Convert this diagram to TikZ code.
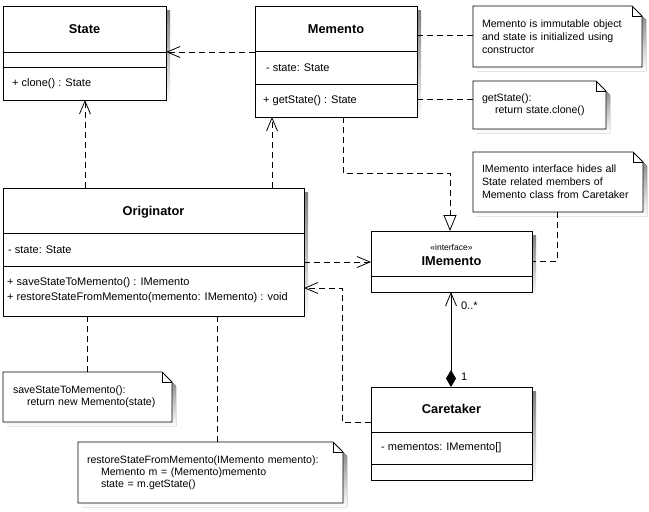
\documentclass[tikz,border=0pt]{standalone}
\usepackage{fontspec}
\setmainfont{Liberation Sans}
\usetikzlibrary{arrows.meta}

\definecolor{shade}{RGB}{192,192,192}
\pgfdeclarelayer{back}
\pgfdeclarelayer{bg}
\pgfsetlayers{back,bg,main}

\newcommand\txt{\fontsize{11pt}{13pt}\selectfont}
\newcommand\notetxt{\fontsize{10.6pt}{13pt}\selectfont}
\newcommand\ttl{\bfseries\fontsize{12.8pt}{15pt}\selectfont}
\newcommand\ind{\hspace*{14pt}}

% shadow behind a class box
\newcommand\classdeco[1]{%
  \begin{pgfonlayer}{bg}
    \fill[shade] ([shift={(4pt,-4pt)}]#1.north west) rectangle ([shift={(4pt,-4pt)}]#1.south east);
  \end{pgfonlayer}}

% folded-corner outline and shadow of a note node
\newcommand\notedeco[1]{%
  \begin{pgfonlayer}{bg}
    \fill[shade] ([shift={(4pt,-4pt)}]#1.north west) -- ([shift={(-6pt,-4pt)}]#1.north east)
      -- ([shift={(4pt,-14pt)}]#1.north east) -- ([shift={(4pt,-4pt)}]#1.south east)
      -- ([shift={(4pt,-4pt)}]#1.south west) -- cycle;
    \filldraw[fill=white, line width=0.8pt, line join=miter] (#1.north west)
      -- ([xshift=-10pt]#1.north east) -- ([yshift=-10pt]#1.north east)
      -- (#1.south east) -- (#1.south west) -- cycle;
    \draw[line width=0.8pt] ([xshift=-10pt]#1.north east) |- ([yshift=-10pt]#1.north east);
  \end{pgfonlayer}}

\tikzset{
  umlclass/.style={draw, line width=0.8pt, fill=white, inner sep=0pt, outer sep=0pt,
    anchor=north west},
  notebox/.style={inner xsep=9pt, inner ysep=0pt, outer sep=0pt, anchor=north west,
    align=left, font=\notetxt},
  title/.style={font=\ttl, inner sep=0pt},
  member/.style={font=\txt, inner sep=0pt, anchor=west},
  sep/.style={line width=0.8pt},
  dashes/.style={line width=0.8pt, dash pattern=on 6pt off 4pt},
  dep/.style={dashes, -{Straight Barb[length=13pt,width=11pt]}},
  realize/.style={dashes, -{Triangle[length=16pt,width=13pt,fill=white]}},
  comp/.style={line width=0.8pt, {Diamond[length=17pt,width=10pt]}-{Straight Barb[length=13pt,width=11pt]}},
  notelink/.style={dashes},
}

\begin{document}
\begin{tikzpicture}[x=1pt,y=-1pt]
\begin{pgfonlayer}{back}
  \fill[white] (0,0) rectangle (649,512);
\end{pgfonlayer}
\useasboundingbox (0,0) rectangle (649,512);

% ---- State
\node[umlclass, minimum width=163pt, minimum height=94pt] (state) at (3,6) {};
\classdeco{state}
\draw[sep] ([yshift=-46pt]state.north west) -- ([yshift=-46pt]state.north east);
\draw[sep] ([yshift=-61pt]state.north west) -- ([yshift=-61pt]state.north east);
\node[title] (state-name) at ([yshift=-23pt]state.north) {State};
\node[member] (state-op) at (12,84) {+ clone() : State};

% ---- Memento
\node[umlclass, minimum width=162pt, minimum height=111pt] (memento) at (255,6) {};
\classdeco{memento}
\draw[sep] ([yshift=-45pt]memento.north west) -- ([yshift=-45pt]memento.north east);
\draw[sep] ([yshift=-78pt]memento.north west) -- ([yshift=-78pt]memento.north east);
\node[title] (memento-name) at ([yshift=-23pt]memento.north) {Memento};
\node[member] (memento-attr) at (266,68) {- state: State};
\node[member] (memento-op) at (263,101) {+ getState() : State};

% ---- Originator
\node[umlclass, minimum width=301pt, minimum height=128pt] (orig) at (3,188) {};
\classdeco{orig}
\draw[sep] ([yshift=-45pt]orig.north west) -- ([yshift=-45pt]orig.north east);
\draw[sep] ([yshift=-78pt]orig.north west) -- ([yshift=-78pt]orig.north east);
\node[title] (orig-name) at ([yshift=-24pt]orig.north) {Originator};
\node[member] (orig-attr) at (8,250) {- state: State};
\node[member] (orig-op1) at (7,283) {+ saveStateToMemento() : IMemento};
\node[member] (orig-op2) at (7,298) {+ restoreStateFromMemento(memento: IMemento) : void};

% ---- IMemento
\node[umlclass, minimum width=161pt, minimum height=61pt] (imem) at (371,231) {};
\classdeco{imem}
\draw[sep] ([yshift=-45pt]imem.north west) -- ([yshift=-45pt]imem.north east);
\node[inner sep=0pt, font=\fontsize{8.5pt}{10pt}\selectfont] (imem-stereo) at ([yshift=-16pt]imem.north) {«interface»};
\node[title] (imem-name) at ([yshift=-30pt]imem.north) {IMemento};

% ---- Caretaker
\node[umlclass, minimum width=161pt, minimum height=93pt] (care) at (371,387) {};
\classdeco{care}
\draw[sep] ([yshift=-45pt]care.north west) -- ([yshift=-45pt]care.north east);
\draw[sep] ([yshift=-77pt]care.north west) -- ([yshift=-77pt]care.north east);
\node[title] (care-name) at ([yshift=-22pt]care.north) {Caretaker};
\node[member] (care-attr) at (381,448) {- mementos: IMemento[]};

% ---- Notes
\node[notebox, text width=151pt, minimum height=61pt] (n1) at (473,6)
  {\mbox{Memento is immutable object}\\\mbox{and state is initialized using}\\constructor};
\notedeco{n1}
\node[notebox, text width=115pt, minimum height=48pt, font=\fontsize{10.6pt}{12pt}\selectfont] (n2) at (473,81)
  {getState():\\\hspace*{13pt}\mbox{return state.clone()}};
\notedeco{n2}
\node[notebox, text width=152pt, minimum height=60pt] (n3) at (473,152)
  {\mbox{IMemento interface hides all}\\\mbox{State related members of}\\\mbox{Memento class from Caretaker}};
\notedeco{n3}
\node[notebox, inner xsep=10pt, text width=149pt, minimum height=50pt, font=\fontsize{10.6pt}{12pt}\selectfont] (n4) at (3,372)
  {saveStateToMemento():\\\ind \mbox{return new Memento(state)}};
\notedeco{n4}
\node[notebox, text width=247pt, minimum height=61pt, font=\fontsize{10.6pt}{12pt}\selectfont] (n5) at (78,442)
  {\mbox{restoreStateFromMemento(IMemento memento):}\\\ind \mbox{Memento m = (Memento)memento}\\\ind \mbox{state = m.getState()}};
\notedeco{n5}

% ---- Relations
\draw[dep] (memento.west |- 0,52) -- (state.east |- 0,52);
\draw[dep] (orig.north -| 85,0) -- (state.south -| 85,0);
\draw[dep] (orig.north -| 272,0) -- (memento.south -| 272,0);
\draw[dep] (orig.east |- 0,262) -- (imem.west |- 0,262);
\coordinate (bend) at (450,173);
\draw[realize] (memento.south -| 343,0) |- (bend) -- (imem.north -| bend);
\coordinate (back) at (342,288);
\draw[dep] (care.west |- 0,422) -| (back) -- (orig.east |- back);
\draw[comp] (care.north -| 451,0) -- (imem.south -| 451,0);
\node[member, anchor=west, inner sep=0pt] (mult-many) at (461,306) {0..*};
\node[member, anchor=west, inner sep=0pt] (mult-one) at (461,377) {1};

% ---- Note links
\draw[notelink] (memento.east |- 0,35) -- (n1.west |- 0,35);
\draw[notelink] (memento.east |- 0,99) -- (n2.west |- 0,99);
\draw[notelink] (n3.south -| 557,0) |- (imem.east |- 0,261);
\draw[notelink] (orig.south -| 87,0) -- (n4.north -| 87,0);
\draw[notelink] (orig.south -| 217,0) -- (n5.north -| 217,0);
\end{tikzpicture}
\end{document}
